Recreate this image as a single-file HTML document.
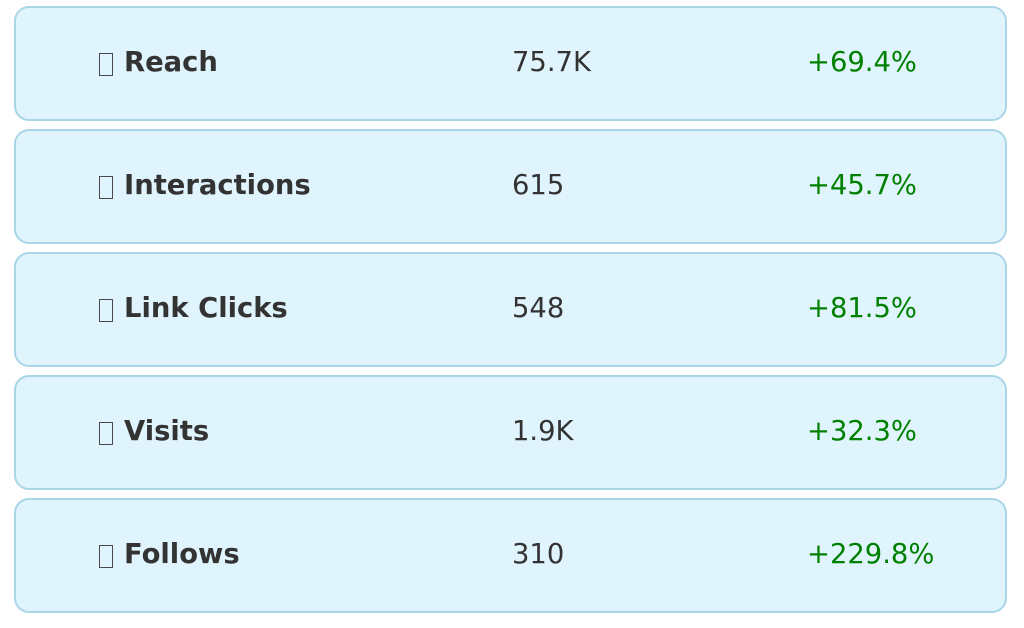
<!DOCTYPE html>
<html>
<head>
<meta charset="utf-8">
<style>
  html, body { margin: 0; padding: 0; background: #ffffff; }
  body { width: 1024px; height: 628px; position: relative; overflow: hidden;
         font-family: "DejaVu Sans", "Liberation Sans", sans-serif; }
  .card { position: absolute; left: 14px; width: 993px; height: 115px;
          box-sizing: border-box; background: #e0f4fd; border: 2px solid #a9d6e6;
          border-radius: 15px; }
  .t { position: absolute; font-size: 27.4px; line-height: 27.4px; white-space: nowrap; }
  .lbl { left: 124px; font-weight: bold; color: #333333; }
  .val { left: 512px; color: #333333; }
  .pct { left: 807px; color: #008000; }
  .tofu { position: absolute; left: 99px; width: 14px; height: 23px; box-sizing: border-box;
          border: 1.6px solid #4a4a4a; }
</style>
</head>
<body>
  <div class="card" style="top:6px"></div>
  <div class="tofu" style="top:53px"></div>
  <div class="t lbl" style="top:49px">Reach</div>
  <div class="t val" style="top:49px">75.7K</div>
  <div class="t pct" style="top:49px">+69.4%</div>

  <div class="card" style="top:129px"></div>
  <div class="tofu" style="top:176px"></div>
  <div class="t lbl" style="top:172px">Interactions</div>
  <div class="t val" style="top:172px">615</div>
  <div class="t pct" style="top:172px">+45.7%</div>

  <div class="card" style="top:252px"></div>
  <div class="tofu" style="top:299px"></div>
  <div class="t lbl" style="top:295px">Link Clicks</div>
  <div class="t val" style="top:295px">548</div>
  <div class="t pct" style="top:295px">+81.5%</div>

  <div class="card" style="top:375px"></div>
  <div class="tofu" style="top:422px"></div>
  <div class="t lbl" style="top:418px">Visits</div>
  <div class="t val" style="top:418px">1.9K</div>
  <div class="t pct" style="top:418px">+32.3%</div>

  <div class="card" style="top:498px"></div>
  <div class="tofu" style="top:545px"></div>
  <div class="t lbl" style="top:541px">Follows</div>
  <div class="t val" style="top:541px">310</div>
  <div class="t pct" style="top:541px">+229.8%</div>
</body>
</html>
